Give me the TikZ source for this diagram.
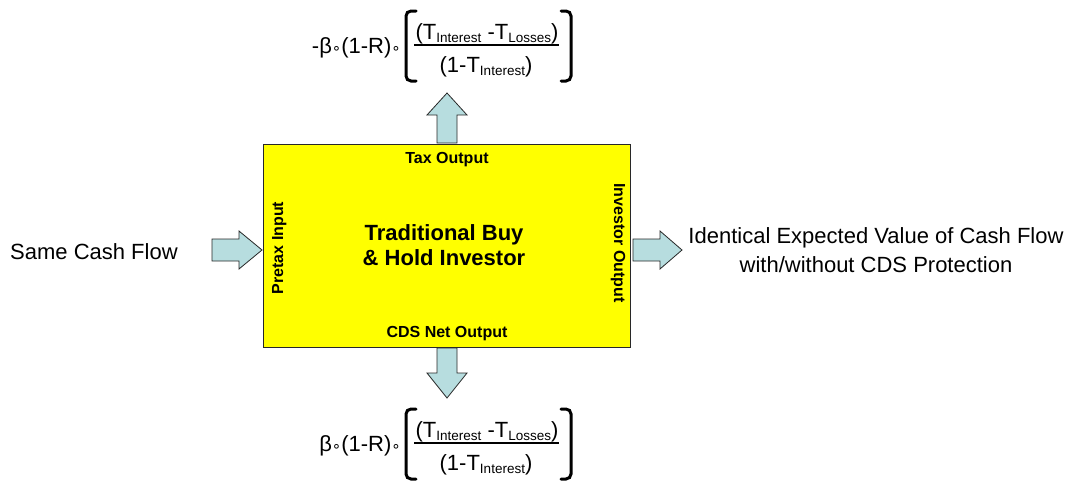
\documentclass[tikz,border=0pt]{standalone}
\usepackage{fontspec}
\setmainfont{Liberation Sans}
\newfontfamily\symf{DejaVu Sans}
\definecolor{arrowfill}{RGB}{183,221,223}
\definecolor{boxfill}{RGB}{255,255,0}
\definecolor{edge}{RGB}{40,40,40}
\newcommand\sub[1]{\raisebox{-3pt}{\fontsize{13.5}{14}\selectfont #1}}
\newcommand\op{{\fontsize{15}{15}\selectfont\symf ∘}}
\tikzset{
  eqtext/.style={inner sep=0pt, font=\fontsize{22}{26}\selectfont},
  bigtext/.style={inner sep=0pt, font=\fontsize{22}{29}\selectfont, align=center},
  boxlabel/.style={inner sep=0pt, font=\fontsize{16}{18}\selectfont\bfseries},
  blockarrow/.style={draw=edge, fill=arrowfill, line width=0.8pt, line join=miter},
  fracbar/.style={line width=1.8pt},
  brace/.style={line width=3pt, rounded corners=5pt, line cap=round},
  investorbox/.style={draw=edge, fill=boxfill, line width=1pt}
}
% tax-adjusted ratio in brackets: #1 node prefix, #2 leading factor, #3 vertical offset
\newcommand\bracketfrac[3]{%
  \begin{scope}[shift={(0,#3)}]
    \node[eqtext, anchor=base east] (#1pre) at (401,53) {#2(1-R)\op};
    \node[eqtext, anchor=base] (#1num) at (487,39) {(T\sub{Interest} -T\sub{Losses})};
    \node[eqtext, anchor=base] (#1den) at (486,72) {(1-T\sub{Interest})};
    \draw[fracbar] (414,45) -- (559,45);
    \draw[brace] (416,11) -- (406,11) -- (406,81) -- (416,81);
    \draw[brace] (561,11) -- (571,11) -- (571,81) -- (561,81);
  \end{scope}}
\begin{document}
\begin{tikzpicture}[x=1pt, y=-1pt]
  \useasboundingbox (0,0) rectangle (1073,480);

  % central investor box
  \draw[investorbox] (263,144) rectangle (630,347);
  \node[bigtext, font=\fontsize{22}{25}\selectfont\bfseries] (investor) at (444,245)
    {Traditional Buy\\ \& Hold Investor};
  \node[boxlabel, anchor=base] (tax) at (447,163) {Tax Output};
  \node[boxlabel, anchor=base] (cds) at (447,337) {CDS Net Output};
  \node[boxlabel, anchor=base, rotate=90] (pretax) at (283,248) {Pretax Input};
  \node[boxlabel, anchor=base, rotate=-90] (invout) at (614,243) {Investor Output};

  % block arrows
  \draw[blockarrow] (212,239) -- (239,239) -- (239,231) -- (262,250) -- (239,269)
    -- (239,261) -- (212,261) -- cycle;
  \draw[blockarrow] (633,239) -- (660,239) -- (660,231) -- (682,250) -- (660,269)
    -- (660,261) -- (633,261) -- cycle;
  \draw[blockarrow] (437,143) -- (437,115) -- (427,115) -- (447,93) -- (467,115)
    -- (457,115) -- (457,143) -- cycle;
  \draw[blockarrow] (437,348) -- (437,373) -- (427,373) -- (447,398) -- (467,373)
    -- (457,373) -- (457,348) -- cycle;

  % outside texts
  \node[eqtext, anchor=base west] (same) at (10,259) {Same Cash Flow};
  \node[bigtext] (identical) at (876,250)
    {Identical Expected Value of Cash Flow\\ with/without CDS Protection};

  % tax and CDS expressions
  \bracketfrac{top}{-β\op}{0}
  \bracketfrac{bot}{β\op}{398}
\end{tikzpicture}
\end{document}
